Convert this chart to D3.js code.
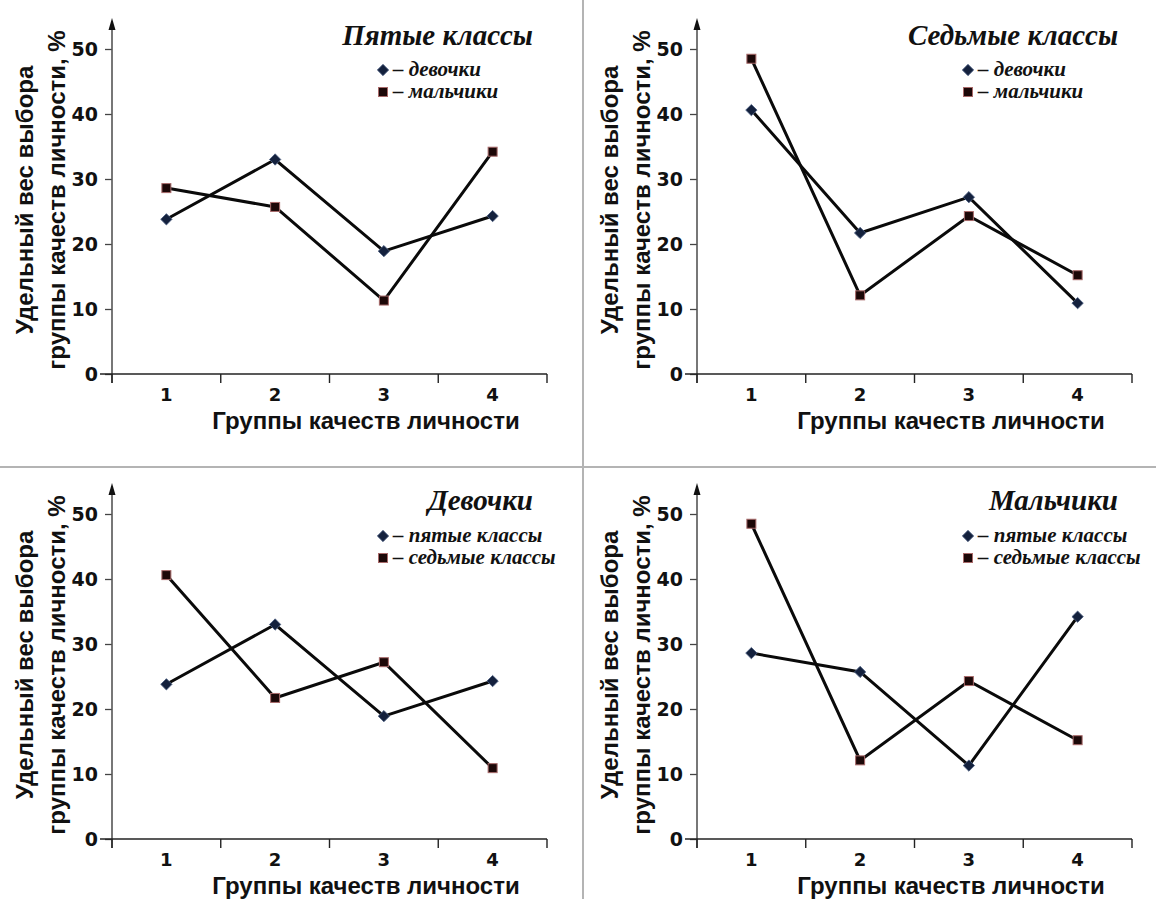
<!DOCTYPE html>
<html><head><meta charset="utf-8">
<script src="https://cdn.jsdelivr.net/npm/d3@7"></script>
<style>
html,body{margin:0;padding:0;background:#fff;}
svg{display:block;}
</style></head>
<body>
<svg id="chart" width="1156" height="899"></svg>
<script>
// ---- data ----
const categories = ["1", "2", "3", "4"];
const yTicks = [0, 10, 20, 30, 40, 50];
const girls5 = [23.8, 33.0, 18.9, 24.3];
const boys5  = [28.6, 25.7, 11.3, 34.2];
const girls7 = [40.6, 21.7, 27.2, 10.9];
const boys7  = [48.5, 12.1, 24.3, 15.2];
const panelTitles = ["Пятые классы", "Седьмые классы", "Девочки", "Мальчики"];
const legendBySex = ["– девочки", "– мальчики"];
const legendByGrade = ["– пятые классы", "– седьмые классы"];
const xTitle = "Группы качеств личности";
const yTitleLines = ["Удельный вес выбора", "группы качеств личности, %"];

// ---- layout ----
const panels = [
  {ox: 112, zy: 374, title: panelTitles[0], series: [girls5, boys5], legend: legendBySex},
  {ox: 697, zy: 374, title: panelTitles[1], series: [girls7, boys7], legend: legendBySex},
  {ox: 112, zy: 839, title: panelTitles[2], series: [girls5, girls7], legend: legendByGrade},
  {ox: 697, zy: 839, title: panelTitles[3], series: [boys5, boys7], legend: legendByGrade}
];
const W = 435, H = 325;
const svg = d3.select("#chart");

// dividers
svg.append("line").attr("x1", 583).attr("x2", 583).attr("y1", 0).attr("y2", 899)
  .attr("stroke", "#b4b4b4").attr("stroke-width", 2);
svg.append("line").attr("x1", 0).attr("x2", 1156).attr("y1", 467).attr("y2", 467)
  .attr("stroke", "#b4b4b4").attr("stroke-width", 2);

const numFont = "'DejaVu Sans', Verdana, sans-serif";
const titleFont = "'Liberation Sans', Arial, sans-serif";
const serif = "'Liberation Serif', 'Times New Roman', serif";

function drawDiamond(g, cx, cy) {
  g.append("rect").attr("x", cx - 4).attr("y", cy - 4).attr("width", 8).attr("height", 8)
    .attr("transform", `rotate(45 ${cx} ${cy})`)
    .attr("fill", "#14213d").attr("stroke", "#4a5d80").attr("stroke-width", 0.8);
}
function drawSquare(g, cx, cy) {
  g.append("rect").attr("x", cx - 4.5).attr("y", cy - 4.5).attr("width", 9).attr("height", 9)
    .attr("fill", "#1c0808").attr("stroke", "#a86a6a").attr("stroke-width", 1);
}

panels.forEach(p => {
  const g = svg.append("g");
  const x = d3.scaleBand().domain(categories).range([p.ox, p.ox + W]);
  const y = d3.scaleLinear().domain([0, 50]).range([p.zy, p.zy - H]);
  const bw = x.bandwidth();

  // y axis
  const ya = g.append("g").attr("transform", `translate(${p.ox},0)`)
    .call(d3.axisLeft(y).tickValues(yTicks).tickSize(7).tickPadding(7).tickFormat(d3.format("d")));
  ya.select(".domain").remove();
  ya.selectAll(".tick line").attr("stroke", "#444").attr("stroke-width", 1.3);
  ya.selectAll(".tick text").attr("font-family", numFont).attr("font-weight", "bold")
    .attr("font-size", 19).attr("fill", "#111");
  g.append("line").attr("x1", p.ox).attr("x2", p.ox).attr("y1", p.zy + 9).attr("y2", p.zy - 350)
    .attr("stroke", "#555").attr("stroke-width", 1.6);
  g.append("path")
    .attr("d", `M${p.ox},${p.zy - 356} L${p.ox - 3.5},${p.zy - 344} L${p.ox + 3.5},${p.zy - 344} Z`)
    .attr("fill", "#111");

  // x axis
  const xa = g.append("g").attr("transform", `translate(0,${p.zy})`)
    .call(d3.axisBottom(x).tickSize(0).tickPadding(14));
  xa.select(".domain").remove();
  xa.selectAll(".tick text").attr("font-family", numFont).attr("font-weight", "bold")
    .attr("font-size", 18).attr("fill", "#111");
  g.append("line").attr("x1", p.ox - 12).attr("x2", p.ox + W).attr("y1", p.zy).attr("y2", p.zy)
    .attr("stroke", "#222").attr("stroke-width", 1.6);
  const edges = categories.map(c => x(c)).concat([x.range()[1]]);
  g.selectAll(".edge").data(edges).join("line")
    .attr("x1", d => d).attr("x2", d => d).attr("y1", p.zy).attr("y2", p.zy + 9)
    .attr("stroke", "#222").attr("stroke-width", 1.4);

  // axis titles
  g.append("text").attr("x", p.ox + 254).attr("y", p.zy + 55).attr("text-anchor", "middle")
    .attr("font-family", titleFont).attr("font-weight", "bold").attr("font-size", 24)
    .attr("fill", "#111").text(xTitle);
  const cy = p.zy - 174;
  yTitleLines.forEach((t, i) => {
    const cx = p.ox - (i === 0 ? 87 : 55);
    g.append("text").attr("transform", `translate(${cx + 8},${cy}) rotate(-90)`)
      .attr("text-anchor", "middle")
      .attr("font-family", titleFont).attr("font-weight", "bold").attr("font-size", 24)
      .attr("fill", "#111").text(t);
  });

  // lines
  const line = d3.line().x((v, i) => x(categories[i]) + bw / 2).y(v => y(v));
  p.series.forEach(s => {
    g.append("path").datum(s).attr("d", line).attr("fill", "none")
      .attr("stroke", "#0a0a0a").attr("stroke-width", 3).attr("stroke-linejoin", "miter");
  });
  p.series[0].forEach((v, i) => drawDiamond(g, x(categories[i]) + bw / 2, y(v)));
  p.series[1].forEach((v, i) => drawSquare(g, x(categories[i]) + bw / 2, y(v)));

  // title
  const top = p.zy - 374;
  g.append("text").attr("x", p.ox + 421).attr("y", top + 45).attr("text-anchor", "end")
    .attr("font-family", serif).attr("font-style", "italic").attr("font-weight", "bold")
    .attr("font-size", 29).attr("fill", "#111").text(p.title);
  // legend
  const lx = p.ox + 271;
  const rows = [top + 70 + (p.zy > 400 ? 1 : 0), top + 92 + (p.zy > 400 ? 1 : 0)];
  drawDiamond(g, lx, rows[0]);
  drawSquare(g, lx, rows[1]);
  p.legend.forEach((t, i) => {
    g.append("text").attr("x", lx + 10).attr("y", rows[i] + 6)
      .attr("font-family", serif).attr("font-style", "italic").attr("font-weight", "bold")
      .attr("font-size", 21).attr("fill", "#111").text(t);
  });
});
</script>
</body></html>
